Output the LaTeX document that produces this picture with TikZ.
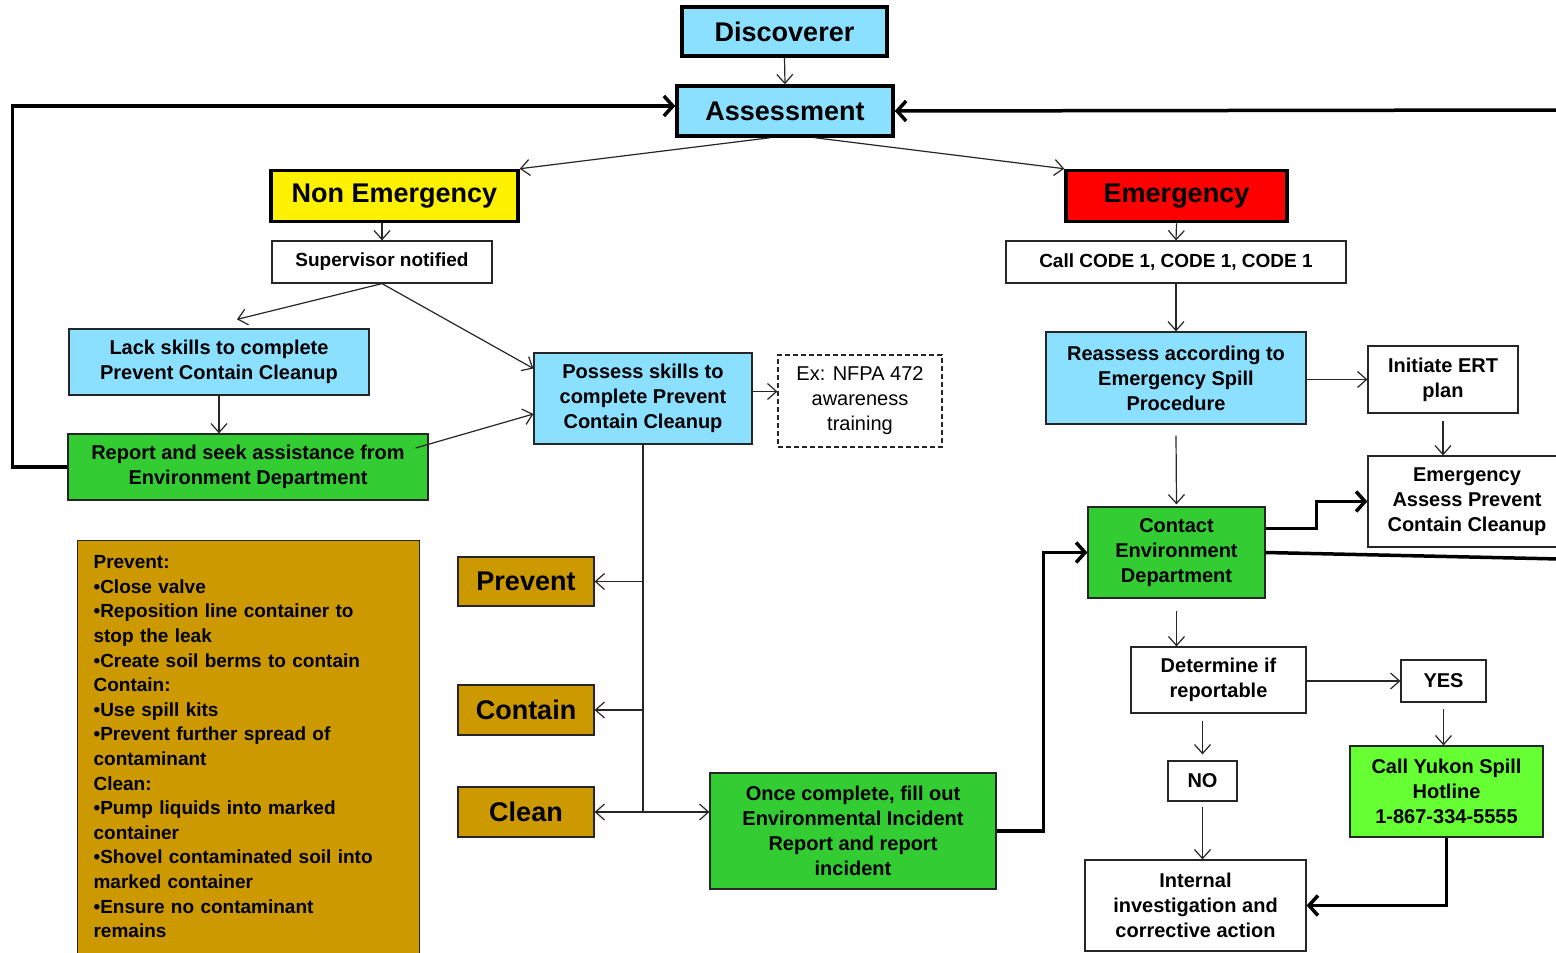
\documentclass[tikz,border=0pt]{standalone}
\usepackage{fontspec}
\setmainfont{Liberation Sans}
\usepackage{tikz}
\usetikzlibrary{arrows.meta}
\definecolor{skyblue}{RGB}{140,224,255}
\definecolor{spillred}{RGB}{255,0,0}
\definecolor{grassgreen}{RGB}{51,204,51}
\definecolor{limegreen}{RGB}{102,255,51}
\definecolor{ochre}{RGB}{204,153,0}

\begin{document}
\begin{tikzpicture}[x=1pt, y=-1pt,
    box/.style={draw=black!85, line width=1.2pt, align=center, inner sep=0pt, font=\fontsize{20}{25}\selectfont\bfseries},
    titlefont/.style={font=\fontsize{27}{30}\selectfont\bfseries},
    bigbox/.style={box, titlefont, draw=black, line width=3.5pt},
    line/.style={black!85, line width=1.2pt, -{Straight Barb[length=9pt,width=16pt]}},
    thickline/.style={black, line width=3.5pt, -{Straight Barb[length=9pt,width=20pt]}}]

    \useasboundingbox (0,0) rectangle (1556,953);
    \fill[white] (0,0) rectangle (1556,953);

    \node[bigbox, fill=skyblue, minimum width=205pt, minimum height=49pt] (disc) at (784.5,31.5) {Discoverer};
    \node[bigbox, fill=skyblue, minimum width=216pt, minimum height=50pt] (assess) at (785,111) {Assessment};
    \node[bigbox, fill=yellow, minimum width=247pt, minimum height=51pt] (nonem) at (394.5,196) {Non Emergency};
    \node[bigbox, fill=spillred, minimum width=221pt, minimum height=51pt] (emerg) at (1176.5,196) {Emergency};

    \node[box, minimum width=220pt, minimum height=42pt, font=\fontsize{19}{24}\selectfont\bfseries] (superv) at (382,262) {Supervisor notified};
    \node[box, minimum width=340pt, minimum height=42pt, font=\fontsize{19}{24}\selectfont\bfseries] (code) at (1176,262) {Call CODE 1, CODE 1, CODE 1};

    \node[box, fill=skyblue, minimum width=300pt, minimum height=66pt] (lack) at (219,362) {Lack skills to complete\\Prevent Contain Cleanup};
    \node[box, fill=skyblue, minimum width=218pt, minimum height=91pt] (possess) at (643,398.5) {Possess skills to\\complete Prevent\\Contain Cleanup};
    \node[box, dash pattern=on 5pt off 3pt, minimum width=164pt, minimum height=92pt, font=\fontsize{20}{25}\selectfont] (nfpa) at (860,401) {Ex: NFPA 472\\awareness\\training};
    \node[box, fill=grassgreen, minimum width=360pt, minimum height=66pt] (report) at (248,467) {Report and seek assistance from\\Environment Department};

    \node[box, fill=skyblue, minimum width=260pt, minimum height=92pt] (reassess) at (1176,378) {Reassess according to\\Emergency Spill\\Procedure};
    \node[box, minimum width=150pt, minimum height=67pt] (ert) at (1443,379.5) {Initiate ERT\\plan};
    \node[box, minimum width=198pt, minimum height=91pt] (apcc) at (1467,501.5) {Emergency\\Assess Prevent\\Contain Cleanup};
    \node[box, fill=grassgreen, minimum width=177pt, minimum height=91pt] (contact) at (1176.5,552.5) {Contact\\Environment\\Department};
    \node[box, minimum width=175pt, minimum height=66pt] (determ) at (1218.5,680) {Determine if\\reportable};
    \node[box, minimum width=85pt, minimum height=42pt] (yes) at (1443.5,681) {YES};
    \node[box, minimum width=69pt, minimum height=40pt] (no) at (1202.5,781) {NO};
    \node[box, fill=limegreen, minimum width=193pt, minimum height=91pt] (yukon) at (1446.5,791.5) {Call Yukon Spill\\Hotline\\1-867-334-5555};
    \node[box, minimum width=221pt, minimum height=91pt] (internal) at (1195.5,905.5) {Internal\\investigation and\\corrective action};

    \node[box, fill=ochre, anchor=north west, text width=310pt, inner xsep=16pt, inner ysep=15pt, align=left, font=\fontsize{19}{24.6}\selectfont\bfseries] (tips) at (77,540)
        {Prevent:\\ \textbullet Close valve\\ \textbullet Reposition line container to\\ stop the leak\\ \textbullet Create soil berms to contain\\ Contain:\\ \textbullet Use spill kits\\ \textbullet Prevent further spread of\\ contaminant\\ Clean:\\ \textbullet Pump liquids into marked\\ container\\ \textbullet Shovel contaminated soil into\\ marked container\\ \textbullet Ensure no contaminant\\ remains\\ \mbox{}\\ \mbox{}};
    \node[box, titlefont, fill=ochre, minimum width=136pt, minimum height=49pt] (prevent) at (526,581.5) {Prevent};
    \node[box, titlefont, fill=ochre, minimum width=136pt, minimum height=50pt] (contain) at (526,710) {Contain};
    \node[box, titlefont, fill=ochre, minimum width=136pt, minimum height=50pt] (clean) at (526,812) {Clean};
    \node[box, fill=grassgreen, minimum width=286pt, minimum height=116pt] (once) at (853,831) {Once complete, fill out\\Environmental Incident\\Report and report\\incident};

    \draw[line] (disc.south) -- (assess.north);
    \draw[line] ([xshift=-15pt]assess.south) -- (nonem.north east);
    \draw[line] ([xshift=30pt]assess.south) -- (emerg.north west);
    \draw[line] (superv.north |- nonem.south) -- (superv.north);
    \draw[line] (emerg.south) -- (code.north);

    \draw[line] (superv.south) -- ([xshift=18pt,yshift=9pt]lack.north);
    \draw[line] (superv.south) -- ([yshift=30pt]possess.west);
    \draw[line] (lack.south) -- (lack.south |- report.north);
    \draw[line] ([xshift=-13pt,yshift=19pt]report.east) -- ([yshift=-15.5pt]possess.west);
    \draw[line] ([yshift=7pt]possess.east) -- ([yshift=7pt]possess.east -| nfpa.west);

    \coordinate (split) at (possess.south |- clean.east);
    \draw[black!85, line width=1.2pt] (possess.south) -- (split);
    \draw[line] (possess.south |- prevent.east) -- (prevent.east);
    \draw[line] (possess.south |- contain.east) -- (contain.east);
    \draw[line] (split) -- (clean.east);
    \draw[line] (split) -- (split -| once.west);

    \draw[thickline] (report.west) -- ++(-55,0) |- ([yshift=5pt]assess.west);
    \coordinate (fromright) at (1560,110);
    \draw[thickline] (fromright) -- (assess.east);
    \draw[thickline] (once.east) -- ++(47,0) |- (contact.west);

    \draw[line] (code.south) -- (reassess.north);
    \draw[line] (reassess.east |- ert.west) -- (ert.west);
    \draw[line] ([yshift=-11pt]reassess.south) -- ([yshift=2pt]contact.north);
    \draw[line] ([yshift=-7pt]ert.south) -- (ert.south |- apcc.north);
    \draw[thickline] ([yshift=24pt]contact.east) -- ++(51,0) |- (apcc.west);
    \coordinate (toright) at (1560,559);
    \draw[black, line width=3.5pt] (contact.east) -- (toright);

    \draw[line] ([yshift=-12pt]contact.south) -- (contact.south |- determ.north);
    \draw[line] (determ.east |- yes.west) -- (yes.west);
    \draw[line] ([yshift=-6pt]yes.south) -- (yes.south |- yukon.north);
    \draw[line] ([yshift=-7pt]no.north |- determ.south) -- ([yshift=6pt]no.north);
    \draw[line] ([yshift=-5pt]no.south) -- (no.south |- internal.north);
    \draw[thickline] (yukon.south) |- (internal.east);

\end{tikzpicture}
\end{document}
